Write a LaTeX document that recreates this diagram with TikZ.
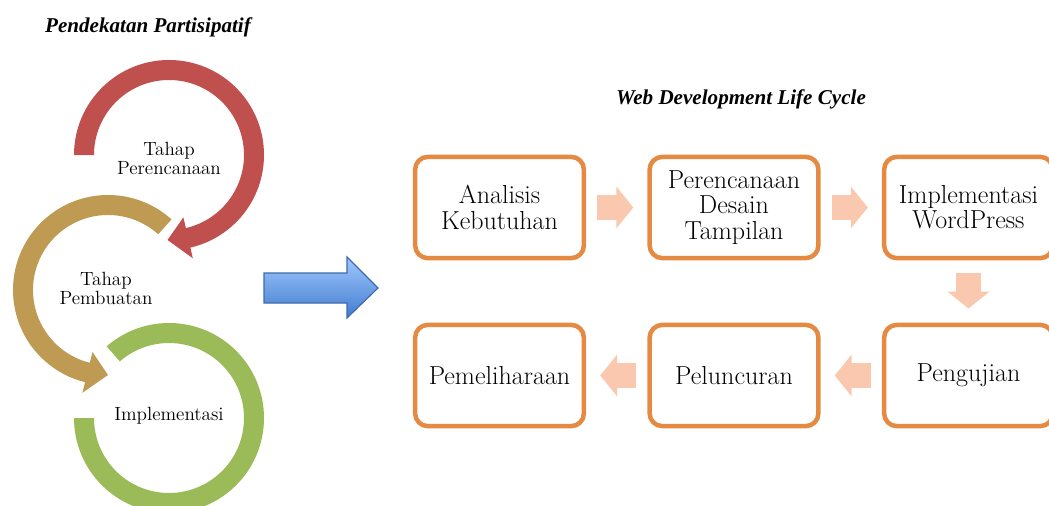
\documentclass[tikz,border=0pt]{standalone}
\usepackage{fontspec}
\newfontfamily\titlefont{Liberation Serif}
\usetikzlibrary{arrows.meta}
\definecolor{redarc}{RGB}{192,80,77}
\definecolor{goldarc}{RGB}{190,154,82}
\definecolor{greenarc}{RGB}{155,187,89}
\definecolor{boxline}{RGB}{228,138,66}
\definecolor{pale}{RGB}{250,200,174}
\definecolor{bluetop}{RGB}{160,200,255}
\definecolor{bluebot}{RGB}{66,124,206}
\definecolor{blueline}{RGB}{62,106,172}
\tikzset{
  stage/.style={draw=boxline, line width=3.2pt, rounded corners=9pt, fill=white,
    minimum width=120pt, minimum height=72pt, align=center,
    font=\fontsize{18.5}{18}\selectfont},
  flow/.style={pale, line width=17.7pt, -{Triangle[length=12pt,width=29pt]}},
  ringtext/.style={align=center, font=\fontsize{13.6}{13.5}\selectfont},
  heading/.style={font=\titlefont\bfseries\itshape\fontsize{15}{17}\selectfont}
}
\begin{document}
\begin{tikzpicture}[x=0.025cm,y=0.025cm]
\useasboundingbox (0,0) rectangle (1049,-505);

\node[heading] (t1) at (148,-27) {Pendekatan Partisipatif};
\node[heading] (t2) at (741,-99) {Web Development Life Cycle};

% green ring
\begin{scope}[shift={(169,-418)}]
\fill[greenarc] (180:95) arc[start angle=180, end angle=491, radius=95]
  -- (131:75) arc[start angle=491, end angle=180, radius=75] -- cycle;
\end{scope}
% gold ring
\begin{scope}[shift={(108,-290)}]
\fill[goldarc] (48:95) arc[start angle=48, end angle=256, radius=95]
  -- (256:106) -- (270:85) -- (256:64) -- (256:75)
  arc[start angle=256, end angle=48, radius=75] -- cycle;
\end{scope}
% red ring
\begin{scope}[shift={(169,-155)}]
\fill[redarc] (180:95) arc[start angle=180, end angle=-77, radius=95]
  -- (-77:106) -- (-91:85) -- (-77:64) -- (-77:75)
  arc[start angle=-77, end angle=180, radius=75] -- cycle;
\end{scope}

\node[ringtext] (plan) at (169,-158) {Tahap\\Perencanaan};
\node[ringtext] (make) at (106,-288) {Tahap\\Pembuatan};
\node[ringtext] (impl) at (169,-416) {Implementasi};

% big arrow
\path[draw=blueline, thick, top color=bluetop, bottom color=bluebot]
  (264,-273) -- (347,-273) -- (347,-257) -- (378,-288) -- (347,-318)
  -- (347,-303) -- (264,-303) -- cycle;

\node[stage] (s1) at (499.5,-207.5) {Analisis\\Kebutuhan};
\node[stage] (s2) at (734,-207.5) {Perencanaan\\Desain\\Tampilan};
\node[stage] (s3) at (968.5,-207.5) {Implementasi\\WordPress};
\node[stage] (s4) at (968.5,-375.5) {Pengujian};
\node[stage] (s5) at (734,-375.5) {Peluncuran};
\node[stage] (s6) at (499.5,-375.5) {Pemeliharaan};

\draw[flow] ([xshift=8pt]s1.east) -- ([xshift=-10pt]s2.west);
\draw[flow] ([xshift=8pt]s2.east) -- ([xshift=-10pt]s3.west);
\draw[flow] ([yshift=-9pt]s3.south) -- ([yshift=10pt]s4.north);
\draw[flow] ([xshift=-8pt]s4.west) -- ([xshift=10pt]s5.east);
\draw[flow] ([xshift=-8pt]s5.west) -- ([xshift=10pt]s6.east);

\end{tikzpicture}
\end{document}
